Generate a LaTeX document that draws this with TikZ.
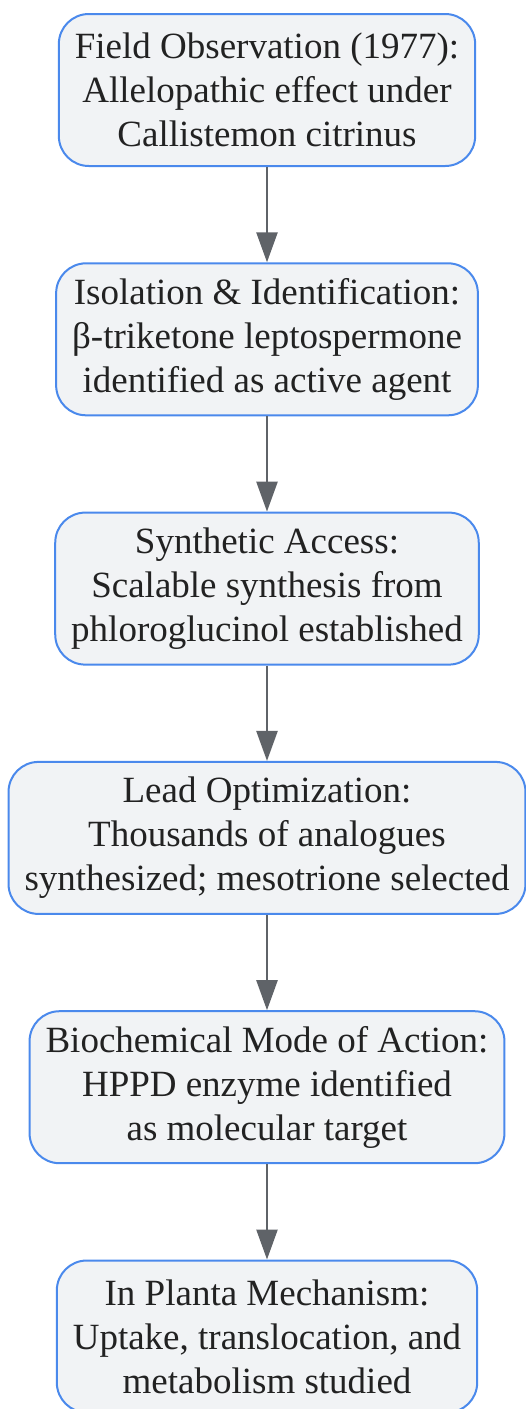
\documentclass[tikz,border=0pt]{standalone}
\usepackage{fontspec}
\setmainfont{Liberation Serif}
\usetikzlibrary{positioning,arrows.meta}
\definecolor{boxblue}{HTML}{4A89EC}
\definecolor{boxfill}{HTML}{F1F3F5}
\definecolor{arrowgray}{HTML}{5F6368}
\definecolor{textdark}{HTML}{222222}
\tikzset{
  stagebox/.style={draw=boxblue, line width=2pt, fill=boxfill, rounded corners=30pt,
    align=center, inner xsep=16pt, minimum height=152pt, text=textdark,
    font=\fontsize{37}{44}\selectfont},
  flowarrow/.style={draw=arrowgray, line width=2.5pt,
    -{Triangle[length=30pt,width=21pt]}}
}
\begin{document}
\begin{tikzpicture}[x=1pt,y=-1pt,node distance=95.3pt]
			%%%%% frame %%%%%
			\useasboundingbox (0,0) rectangle (526,1409);
			
			\node[stagebox] (obs) at (267,90) {Field Observation (1977):\\Allelopathic effect under\\Callistemon citrinus};
			\node[stagebox, below=of obs] (iso) {Isolation \& Identification:\\β-triketone leptospermone\\identified as active agent};
			\node[stagebox, below=of iso] (synth) {Synthetic Access:\\Scalable synthesis from\\phloroglucinol established};
			\node[stagebox, below=of synth] (lead) {Lead Optimization:\\Thousands of analogues\\synthesized; mesotrione selected};
			\node[stagebox, below=of lead] (moa) {Biochemical Mode of Action:\\HPPD enzyme identified\\as molecular target};
			\node[stagebox, below=of moa] (planta) {In Planta Mechanism:\\Uptake, translocation, and\\metabolism studied};
			
			%%%%% arrows %%%%%
			\foreach \a/\b in {obs/iso, iso/synth, synth/lead, lead/moa, moa/planta}
				\draw[flowarrow] (\a) -- (\b);
\end{tikzpicture}
\end{document}
